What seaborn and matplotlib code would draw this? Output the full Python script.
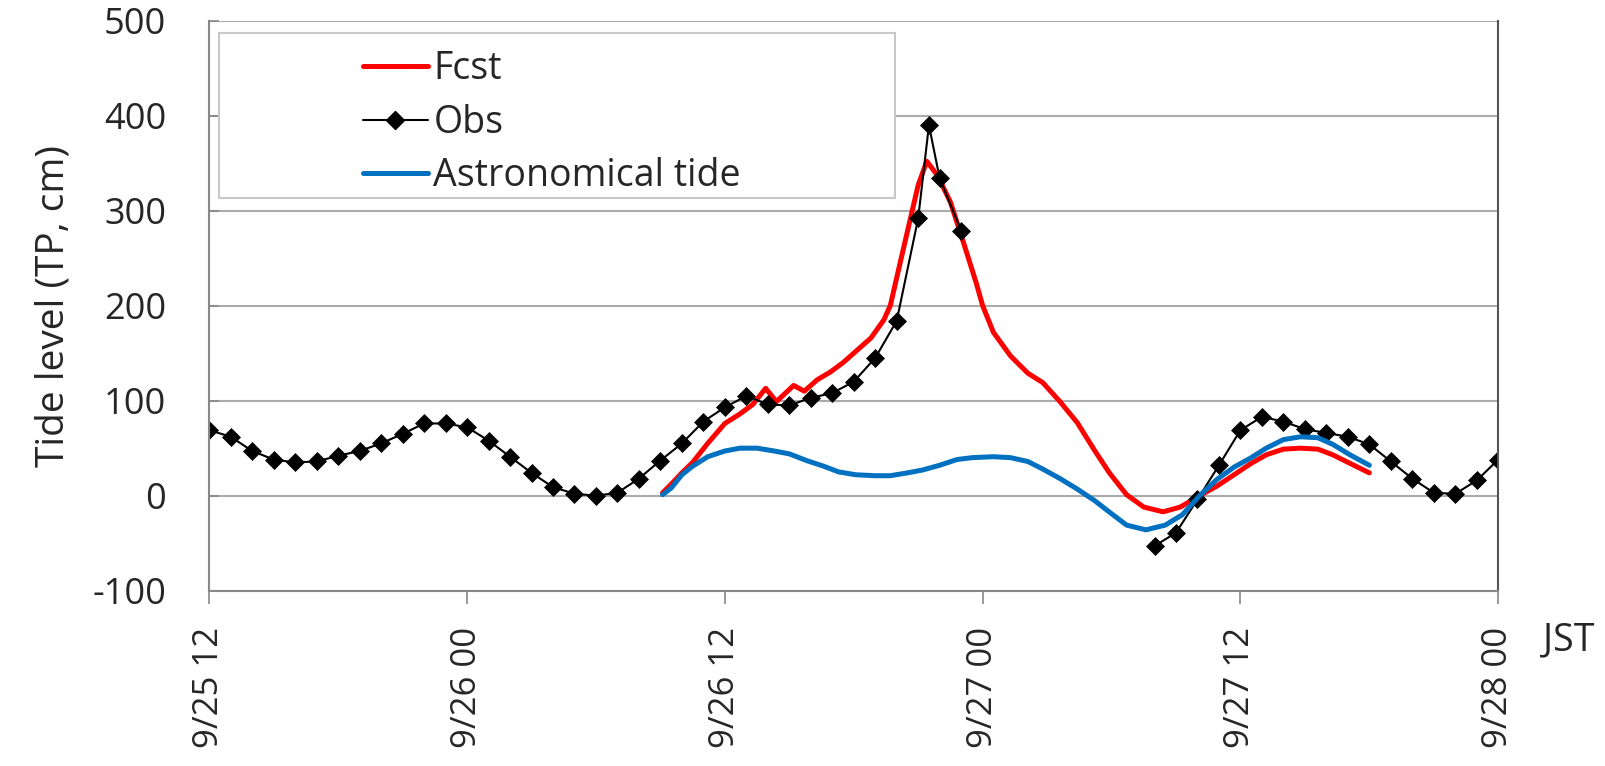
import numpy as np
import pandas as pd
import matplotlib
matplotlib.use("Agg")
import matplotlib.pyplot as plt
from matplotlib.lines import Line2D
from matplotlib.patches import Rectangle
import seaborn as sns

# hours counted from 9/25 12 JST
obs_hours = list(range(0, 34)) + [33.5, 34, 35] + list(range(44, 61))
obs_values = [69, 62, 47, 38, 35, 36, 42, 47, 55, 65,
              76, 76, 72, 58, 41, 24, 9, 2, 0, 3,
              18, 37, 55, 78, 93, 105, 96, 95, 103, 108,
              120, 145, 184, 292, 390, 334, 279,
              -53, -39, -4, 32, 69, 83, 78, 70, 66, 62,
              54, 36, 18, 3, 2, 16, 38]

fcst_hours = [21.1, 21.5, 22.0, 22.5, 23.2, 24.0, 24.7, 25.3, 25.9, 26.4,
              27.2, 27.7, 28.3, 28.9, 29.5, 30.1, 30.8, 31.4, 31.7, 32.2,
              32.6, 33.0, 33.4, 33.9, 34.5, 35.1, 35.7, 36.0, 36.5, 37.3,
              38.1, 38.8, 39.6, 40.4, 41.2, 41.9, 42.7, 43.5, 44.4, 45.2,
              46.1, 46.9, 47.7, 48.5, 49.2, 50.0, 50.8, 51.6, 52.3, 53.1, 54.0]
fcst_values = [3, 12, 24, 35, 55, 76, 86, 96, 113, 99,
               116, 110, 122, 130, 140, 152, 166, 185, 200, 249,
               288, 327, 352, 337, 309, 267, 224, 200, 172, 147,
               129, 119, 99, 77, 48, 24, 1, -12, -17, -12,
               0, 10, 22, 34, 43, 49, 50, 49, 43, 34, 24]

astro_hours = [21.1, 21.5, 22.0, 22.5, 23.2, 24.0, 24.7, 25.5, 26.3, 27.0,
               27.8, 28.6, 29.3, 30.1, 31.0, 31.7, 32.5, 33.2, 34.0, 34.8,
               35.5, 36.5, 37.3, 38.1, 38.8, 39.6, 40.4, 41.2, 42.0, 42.7,
               43.6, 44.5, 45.3, 46.1, 46.9, 47.7, 48.5, 49.2, 50.0, 50.8,
               51.6, 52.3, 53.1, 54.0]
astro_values = [1, 8, 22, 31, 41, 47, 50, 50, 47, 44,
                37, 31, 25, 22, 21, 21, 24, 27, 32, 38,
                40, 41, 40, 36, 28, 18, 7, -5, -19, -31,
                -36, -31, -20, 0, 17, 30, 40, 50, 59, 62,
                61, 54, 43, 32]

tick_hours = [0, 12, 24, 36, 48, 60]
tick_labels = ["9/25 12", "9/26 00", "9/26 12", "9/27 00", "9/27 12", "9/28 00"]

series_names = ["Fcst", "Obs", "Astronomical tide"]
colors = {"Fcst": "#FF0000", "Obs": "black", "Astronomical tide": "#0070C0"}

df_obs = pd.DataFrame({"hour": obs_hours, "level": obs_values})
# break the line where observations are missing
df_obs["seg"] = np.cumsum(np.diff(df_obs["hour"], prepend=df_obs["hour"][0]) > 2)
df_fcst = pd.DataFrame({"hour": fcst_hours, "level": fcst_values})
df_astro = pd.DataFrame({"hour": astro_hours, "level": astro_values})

sns.set_theme(style="white")
plt.rcParams['font.family'] = ['Open Sans', 'DejaVu Sans']
plt.rcParams['axes.unicode_minus'] = False

fig = plt.figure(figsize=(16.06, 7.66), dpi=100)
ax = fig.add_axes([0.1303, 0.2289, 0.8026, 0.7441])

sns.lineplot(data=df_fcst, x="hour", y="level", color=colors["Fcst"],
             linewidth=3.6, ax=ax, legend=False)
sns.lineplot(data=df_obs, x="hour", y="level", units="seg", estimator=None,
             color="black", linewidth=1.5, marker="D", markersize=9,
             mec="black", mew=0.5, ax=ax, legend=False)
sns.lineplot(data=df_astro, x="hour", y="level", color=colors["Astronomical tide"],
             linewidth=3.6, ax=ax, legend=False)

ax.set_xlim(0, 60)
ax.set_ylim(-100, 500)
ax.set_yticks(range(-100, 501, 100))
ax.set_xticks(tick_hours)
ax.set_xticklabels(tick_labels, rotation=90, fontsize=25)
ax.tick_params(axis="y", labelsize=26, direction="in", length=7, width=1.2,
               color="#888888", pad=31, left=True)
ax.tick_params(axis="x", direction="out", length=9, width=1.2,
               color="#888888", pad=17, bottom=True)
ax.yaxis.grid(True, color="#ABABAB", linewidth=1.5)
ax.xaxis.grid(False)
ax.set_xlabel("")
ax.set_ylabel("Tide level (TP, cm)", fontsize=28, labelpad=14)

for side in ["left", "bottom"]:
    ax.spines[side].set_color("#888888")
    ax.spines[side].set_linewidth(1.5)
ax.spines["top"].set_visible(False)
ax.spines["right"].set_color("#555555")
ax.spines["right"].set_linewidth(1.5)

fig.text(1569 / 1606, 1 - 640 / 766, "JST", fontsize=27, ha="center", va="center")

# legend box
fig.patches.append(Rectangle((219.3 / 1606, 1 - 198 / 766), (895 - 219.3) / 1606,
                             (198 - 32.7) / 766, transform=fig.transFigure,
                             facecolor="white", edgecolor="#C8C8C8", linewidth=1.5,
                             zorder=5))
handles = [
    Line2D([], [], color=colors["Fcst"], linewidth=3.6),
    Line2D([], [], color="black", linewidth=1.5, marker="D", markersize=9),
    Line2D([], [], color=colors["Astronomical tide"], linewidth=3.6),
]
leg = fig.legend(handles, series_names, loc="upper left",
                 bbox_to_anchor=(363 / 1606, 1 - 50 / 766), frameon=False,
                 fontsize=27, handlelength=1.73, handletextpad=0.15,
                 labelspacing=0.42, borderpad=0, borderaxespad=0)
leg.set_zorder(6)

fig.savefig("out.png", dpi=100)
